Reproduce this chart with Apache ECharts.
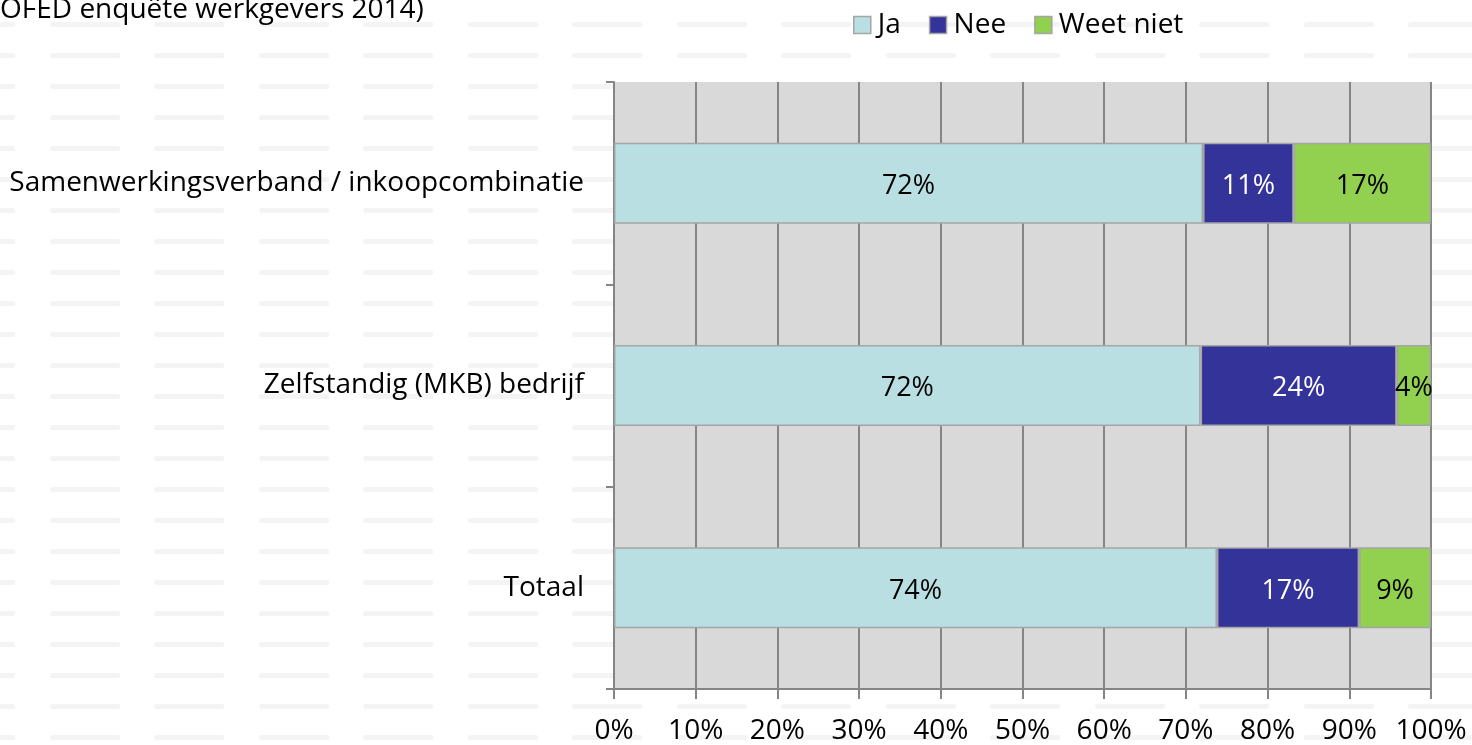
<!DOCTYPE html>
<html>
<head>
    <meta charset="utf-8" />
    <script src="https://cdn.jsdelivr.net/npm/echarts@6/dist/echarts.min.js"></script>
    <title></title>
    <style>
        html, body { margin: 0; padding: 0; }
        body {
            background-color: #fff;
            background-image: url("data:image/svg+xml,%3Csvg xmlns='http://www.w3.org/2000/svg' width='104.5' height='31'%3E%3Crect x='0' y='22' width='70' height='5' rx='2.5' fill='%23f4f4f4'/%3E%3C/svg%3E");
            background-position: 50px 0;
        }
    </style>
</head>

<body>
    <div id="main" style="width: 1472px;height:745px;"></div>

    <script type="text/javascript">

        var categories = ['Totaal', 'Zelfstandig (MKB) bedrijf', 'Samenwerkingsverband / inkoopcombinatie'];
        var ja = [73.8, 71.8, 72.1];
        var nee = [17.4, 24.0, 11.1];
        var weetNiet = [8.8, 4.2, 16.8];
        var xTicks = [0, 10, 20, 30, 40, 50, 60, 70, 80, 90, 100];

        var fontName = '"Open Sans", "Liberation Sans", sans-serif';

        var myChart = echarts.init(document.getElementById('main'));

        function bar(name, data, color, labelColor) {
            return {
                name: name,
                type: 'bar',
                stack: 'tot',
                barWidth: 81,
                data: data,
                itemStyle: { color: color, borderColor: '#a5a5a5', borderWidth: 1.5 },
                label: {
                    show: true,
                    position: 'inside',
                    offset: [0, 3],
                    color: labelColor,
                    fontSize: 27,
                    fontFamily: fontName,
                    formatter: function (p) { return Math.round(p.value) + '%'; }
                }
            };
        }

        myChart.setOption({
            backgroundColor: 'transparent',
            animation: false,
            graphic: [{
                type: 'text',
                left: 0,
                top: -4,
                style: { text: 'OFED enquête werkgevers 2014)', fontSize: 28, fontFamily: fontName, fill: '#000' }
            }],
            legend: {
                data: ['Ja', 'Nee', 'Weet niet'],
                left: 848,
                top: 6,
                itemWidth: 17,
                itemHeight: 17,
                itemGap: 28,
                icon: 'rect',
                textStyle: { fontSize: 28, fontFamily: fontName, color: '#000', padding: [0, 0, 0, 2] },
                itemStyle: { borderColor: '#a5a5a5', borderWidth: 1.5 }
            },
            grid: {
                left: 614, right: 41, top: 82, bottom: 55,
                show: true, backgroundColor: '#d9d9d9', borderWidth: 0
            },
            xAxis: {
                type: 'value',
                min: 0, max: 100, interval: 10,
                axisLine: { show: true, lineStyle: { color: '#858585', width: 2 } },
                axisTick: { show: true, length: 10, lineStyle: { color: '#858585', width: 2 } },
                splitLine: { show: true, lineStyle: { color: '#858585', width: 2 } },
                axisLabel: {
                    margin: 28, fontSize: 28, fontFamily: fontName, color: '#000',
                    formatter: function (v) { return xTicks.indexOf(v) >= 0 ? v + '%' : ''; }
                }
            },
            yAxis: {
                type: 'category',
                data: categories,
                axisLine: { show: true, lineStyle: { color: '#858585', width: 2 } },
                axisTick: { show: true, length: 8, lineStyle: { color: '#858585', width: 2 } },
                splitLine: { show: false },
                axisLabel: { margin: 30, fontSize: 28, fontFamily: fontName, color: '#000', padding: [6, 0, 0, 0] }
            },
            series: [
                bar('Ja', ja, '#b9dfe2', '#000'),
                bar('Nee', nee, '#343399', '#fff'),
                bar('Weet niet', weetNiet, '#92d050', '#000')
            ]
        });

    </script>

</body>
</html>
